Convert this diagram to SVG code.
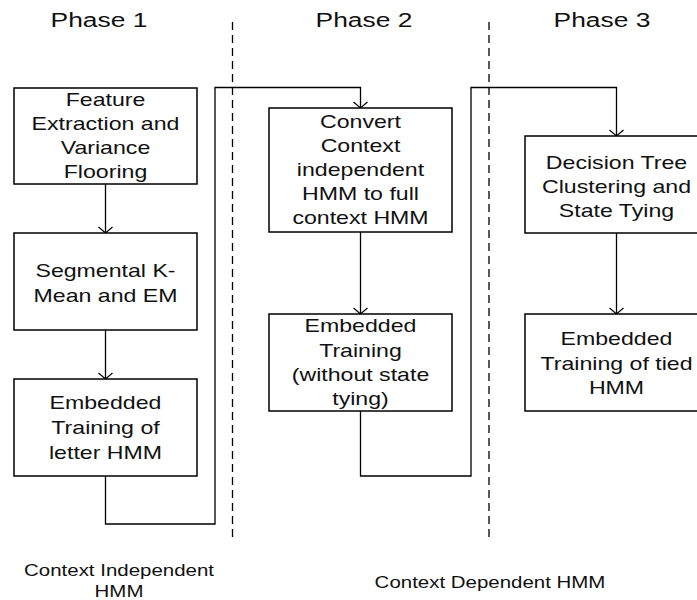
<svg xmlns="http://www.w3.org/2000/svg" width="697" height="600" viewBox="0 0 697 600">
<style>
  .box { fill: #fff; stroke: #000; stroke-width: 1.5; }
  .t { font-family: "Liberation Sans", Arial, sans-serif; font-size: 18.5px; fill: #111; text-anchor: middle; }
  .ph { font-family: "Liberation Sans", Arial, sans-serif; font-size: 20px; fill: #111; text-anchor: middle; }
  .lb { font-family: "Liberation Sans", Arial, sans-serif; font-size: 16.5px; fill: #111; text-anchor: middle; }
  .c { fill: none; stroke: #000; stroke-width: 1.3; }
  .d { fill: none; stroke: #000; stroke-width: 1.3; stroke-dasharray: 8 5; }
</style>
<defs>
  <marker id="arr" markerUnits="userSpaceOnUse" viewBox="-1 -8 8 16" refX="6" refY="0" markerWidth="8" markerHeight="16" orient="auto">
    <path d="M0,-7 L6,0 L0,7" fill="none" stroke="#000" stroke-width="1.2"/>
  </marker>
</defs>
<rect width="697" height="600" fill="#fff"/>

<g id="phases">
  <text class="ph" transform="translate(99 0) scale(1.32 1)" x="0" y="27">Phase 1</text>
  <text class="ph" transform="translate(364 0) scale(1.32 1)" x="0" y="27">Phase 2</text>
  <text class="ph" transform="translate(602 0) scale(1.32 1)" x="0" y="27">Phase 3</text>
</g>

<g id="dividers">
  <path class="d" d="M232.5,22 V541"/>
  <path class="d" d="M489,22 V541"/>
</g>

<g id="connectors">
  <path class="c" d="M105.5,184 V233" marker-end="url(#arr)"/>
  <path class="c" d="M105.5,330 V379" marker-end="url(#arr)"/>
  <path class="c" d="M105.5,476 V524 H215 V87.5 H360.5 V108" marker-end="url(#arr)"/>
  <path class="c" d="M360.5,232 V314" marker-end="url(#arr)"/>
  <path class="c" d="M360.5,411 V476 H471 V87.5 H616.5 V136" marker-end="url(#arr)"/>
  <path class="c" d="M616.5,233 V314" marker-end="url(#arr)"/>
</g>

<g id="n1">
  <rect class="box" x="14" y="88" width="183" height="96"/>
  <text class="t" transform="translate(105.5 0) scale(1.25 1)">
    <tspan x="0" y="106">Feature</tspan><tspan x="0" y="130">Extraction and</tspan><tspan x="0" y="154">Variance</tspan><tspan x="0" y="178">Flooring</tspan>
  </text>
</g>
<g id="n2">
  <rect class="box" x="14" y="233" width="183" height="97"/>
  <text class="t" transform="translate(105.5 0) scale(1.25 1)">
    <tspan x="0" y="277">Segmental K-</tspan><tspan x="0" y="302">Mean and EM</tspan>
  </text>
</g>
<g id="n3">
  <rect class="box" x="14" y="379" width="183" height="97"/>
  <text class="t" transform="translate(105.5 0) scale(1.25 1)">
    <tspan x="0" y="409">Embedded</tspan><tspan x="0" y="434">Training of</tspan><tspan x="0" y="459">letter HMM</tspan>
  </text>
</g>
<g id="n4">
  <rect class="box" x="269" y="108" width="183" height="124"/>
  <text class="t" transform="translate(360.5 0) scale(1.25 1)">
    <tspan x="0" y="128">Convert</tspan><tspan x="0" y="152">Context</tspan><tspan x="0" y="176">independent</tspan><tspan x="0" y="200">HMM to full</tspan><tspan x="0" y="224">context HMM</tspan>
  </text>
</g>
<g id="n5">
  <rect class="box" x="269" y="314" width="183" height="97"/>
  <text class="t" transform="translate(360.5 0) scale(1.25 1)">
    <tspan x="0" y="332">Embedded</tspan><tspan x="0" y="357">Training</tspan><tspan x="0" y="381">(without state</tspan><tspan x="0" y="405">tying)</tspan>
  </text>
</g>
<g id="n6">
  <rect class="box" x="525" y="136" width="183" height="97"/>
  <text class="t" transform="translate(616.5 0) scale(1.25 1)">
    <tspan x="0" y="169">Decision Tree</tspan><tspan x="0" y="193">Clustering and</tspan><tspan x="0" y="217">State Tying</tspan>
  </text>
</g>
<g id="n7">
  <rect class="box" x="525" y="314" width="183" height="97"/>
  <text class="t" transform="translate(616.5 0) scale(1.25 1)">
    <tspan x="0" y="345">Embedded</tspan><tspan x="0" y="370">Training of tied</tspan><tspan x="0" y="394">HMM</tspan>
  </text>
</g>

<g id="labels">
  <text class="lb" transform="translate(119 0) scale(1.24 1)">
    <tspan x="0" y="576">Context Independent</tspan><tspan x="0" y="597">HMM</tspan>
  </text>
  <text class="lb" transform="translate(490 0) scale(1.24 1)" x="0" y="588">Context Dependent HMM</text>
</g>
</svg>
